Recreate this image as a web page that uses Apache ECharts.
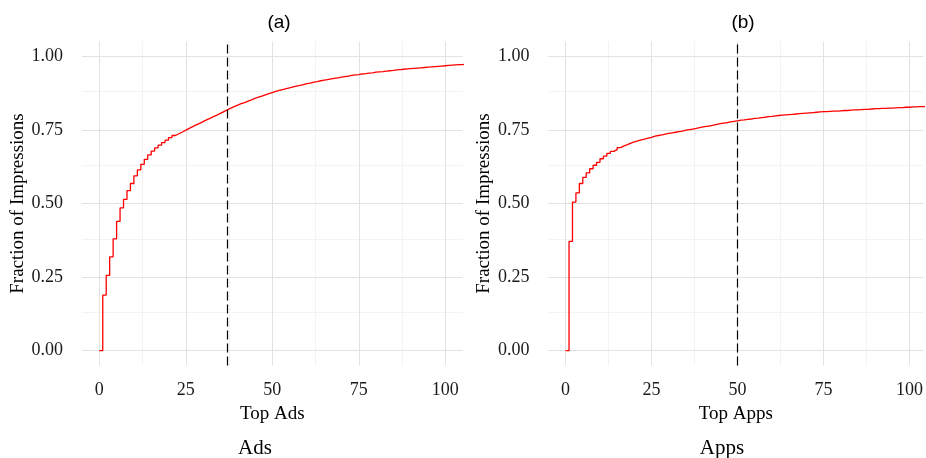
<!DOCTYPE html>
<html>
<head>
<meta charset="utf-8">
<script src="https://cdn.jsdelivr.net/npm/echarts@6/dist/echarts.min.js"></script>
<style>
html,body{margin:0;padding:0;background:#fff;}
#chart{width:926px;height:458px;}
</style>
</head>
<body>
<div id="chart"></div>
<script>
// ---- Data ----
const adsRank = [];
for (let i = 0; i <= 106; i++) adsRank.push(i);
const adsFraction = [
  0.000, 0.189, 0.256, 0.319, 0.380, 0.439, 0.485, 0.514, 0.544, 0.568,
  0.594, 0.614, 0.633, 0.650, 0.665, 0.678, 0.689, 0.698, 0.707, 0.715,
  0.724, 0.731, 0.737, 0.743, 0.749, 0.755, 0.761, 0.767, 0.772, 0.778,
  0.784, 0.789, 0.795, 0.800, 0.806, 0.812, 0.818, 0.824, 0.829, 0.834,
  0.839, 0.843, 0.848, 0.852, 0.857, 0.861, 0.865, 0.869, 0.873, 0.877,
  0.881, 0.884, 0.887, 0.890, 0.893, 0.896, 0.899, 0.901, 0.904, 0.907,
  0.909, 0.912, 0.914, 0.917, 0.919, 0.921, 0.923, 0.925, 0.927, 0.929,
  0.931, 0.933, 0.935, 0.937, 0.938, 0.940, 0.941, 0.943, 0.944, 0.946,
  0.947, 0.948, 0.950, 0.951, 0.952, 0.954, 0.955, 0.956, 0.957, 0.958,
  0.959, 0.960, 0.961, 0.962, 0.963, 0.964, 0.965, 0.966, 0.967, 0.968,
  0.969, 0.970, 0.971, 0.972, 0.972, 0.973, 0.974
];
const appsRank = [];
for (let i = 0; i <= 105; i++) appsRank.push(i);
const appsFraction = [
  0.000, 0.371, 0.505, 0.536, 0.568, 0.589, 0.604, 0.618, 0.630, 0.640,
  0.652, 0.661, 0.670, 0.677, 0.683, 0.690, 0.696, 0.700, 0.705, 0.709,
  0.713, 0.716, 0.719, 0.722, 0.725, 0.729, 0.731, 0.733, 0.736, 0.738,
  0.740, 0.742, 0.744, 0.746, 0.749, 0.751, 0.753, 0.755, 0.758, 0.760,
  0.762, 0.764, 0.766, 0.769, 0.771, 0.773, 0.775, 0.777, 0.779, 0.781,
  0.783, 0.784, 0.786, 0.787, 0.789, 0.790, 0.792, 0.793, 0.795, 0.796,
  0.798, 0.799, 0.800, 0.801, 0.802, 0.803, 0.804, 0.805, 0.806, 0.807,
  0.808, 0.809, 0.810, 0.811, 0.812, 0.812, 0.813, 0.814, 0.814, 0.815,
  0.816, 0.816, 0.817, 0.818, 0.818, 0.819, 0.820, 0.820, 0.821, 0.822,
  0.822, 0.823, 0.823, 0.824, 0.824, 0.825, 0.826, 0.826, 0.827, 0.827,
  0.828, 0.828, 0.829, 0.829, 0.830, 0.830
];
const xTickValues = [0, 25, 50, 75, 100];
const xMinorValues = [12.5, 37.5, 62.5, 87.5];
const yTickValues = [0, 0.25, 0.5, 0.75, 1.0];
const yMinorValues = [0.125, 0.375, 0.625, 0.875];
const adsCutoff = 37;
const appsCutoff = 50;
const panelTitles = ['(a)', '(b)'];
const xNames = ['Top Ads', 'Top Apps'];
const yName = 'Fraction of Impressions';
const captions = ['Ads', 'Apps'];

// ---- Chart ----
const chart = echarts.init(document.getElementById('chart'), null, {renderer: 'canvas'});
const serif = 'Liberation Serif';
const sans = 'Liberation Sans';

function pairs(xs, ys) { return xs.map((x, i) => [x, ys[i]]); }

function xAxisCfg(idx, max) {
  return {
    type: 'value', gridIndex: idx, min: -5, max: max,
    name: xNames[idx], nameLocation: 'middle', nameGap: 32,
    nameTextStyle: {fontFamily: serif, fontSize: 19, color: '#000'},
    axisLine: {show: false}, axisTick: {show: false, customValues: xTickValues},
    splitLine: {show: false},
    axisLabel: {customValues: xTickValues, fontFamily: serif, fontSize: 18, color: '#1a1a1a', margin: 16,
      formatter: v => String(v)}
  };
}
function yAxisCfg(idx) {
  return {
    type: 'value', gridIndex: idx, min: -0.05, max: 1.05,
    name: yName, nameLocation: 'middle', nameGap: 53,
    nameTextStyle: {fontFamily: serif, fontSize: 19, color: '#000'},
    axisLine: {show: false}, axisTick: {show: false, customValues: yTickValues},
    splitLine: {show: false},
    axisLabel: {customValues: yTickValues, fontFamily: serif, fontSize: 18, color: '#1a1a1a', margin: 19,
      formatter: v => v.toFixed(2)}
  };
}
function gridSeries(idx) {
  const lines = [];
  xMinorValues.forEach(v => lines.push({xAxis: v, lineStyle: {color: '#f3f3f3', width: 1}}));
  yMinorValues.forEach(v => lines.push({yAxis: v, lineStyle: {color: '#f3f3f3', width: 1}}));
  xTickValues.forEach(v => lines.push({xAxis: v, lineStyle: {color: '#e2e2e2', width: 1}}));
  yTickValues.forEach(v => lines.push({yAxis: v, lineStyle: {color: '#e2e2e2', width: 1}}));
  return {
    type: 'line', xAxisIndex: idx, yAxisIndex: idx, data: [], silent: true, z: 0,
    markLine: {z: 0, symbol: 'none', silent: true, animation: false, label: {show: false},
      lineStyle: {type: 'solid'}, data: lines}
  };
}
function stepSeries(idx, data, cutoff) {
  return {
    type: 'line', xAxisIndex: idx, yAxisIndex: idx, data: data, step: 'end',
    showSymbol: false, symbol: 'none', z: 3, clip: false,
    lineStyle: {color: '#ff0000', width: 1.3},
    markLine: {z: 4, symbol: 'none', silent: true, animation: false, label: {show: false},
      lineStyle: {color: '#000', width: 1.2, type: [9, 4]}, data: [{xAxis: cutoff}]}
  };
}

chart.setOption({
  animation: false,
  backgroundColor: '#fff',
  title: [
    {text: panelTitles[0], left: 274, top: 8, textAlign: 'center', textStyle: {fontFamily: sans, fontSize: 19, fontWeight: 'normal', color: '#000'}},
    {text: panelTitles[1], left: 738, top: 8, textAlign: 'center', textStyle: {fontFamily: sans, fontSize: 19, fontWeight: 'normal', color: '#000'}},
    {text: captions[0], left: 250, top: 433, textAlign: 'center', textStyle: {fontFamily: serif, fontSize: 21, fontWeight: 'normal', color: '#000'}},
    {text: captions[1], left: 717, top: 433, textAlign: 'center', textStyle: {fontFamily: serif, fontSize: 21, fontWeight: 'normal', color: '#000'}}
  ],
  grid: [
    {left: 82, top: 41.6, width: 380.6, height: 323.8},
    {left: 548.4, top: 41.6, width: 377.2, height: 323.8}
  ],
  xAxis: [xAxisCfg(0, 105), xAxisCfg(1, 104)],
  yAxis: [yAxisCfg(0), yAxisCfg(1)],
  series: [
    gridSeries(0), gridSeries(1),
    stepSeries(0, pairs(adsRank, adsFraction), adsCutoff),
    stepSeries(1, pairs(appsRank, appsFraction), appsCutoff)
  ]
});
</script>
</body>
</html>
